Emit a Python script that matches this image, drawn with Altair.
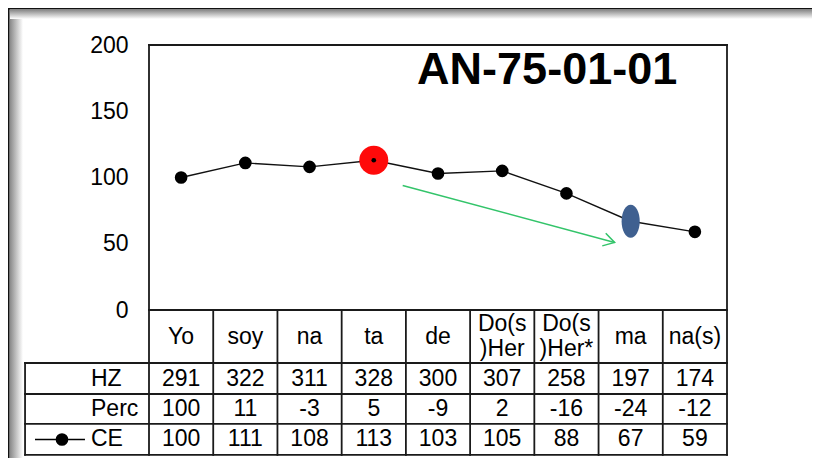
import altair as alt
import pandas as pd

# ---------------- data ----------------
categories = ["Yo", "soy", "na", "ta", "de", "Do(s\n)Her", "Do(s\n)Her*", "ma", "na(s)"]
hz_values = [291, 322, 311, 328, 300, 307, 258, 197, 174]
perc_values = [100, 11, -3, 5, -9, 2, -16, -24, -12]
ce_values = [100, 111, 108, 113, 103, 105, 88, 67, 59]
row_labels = ["HZ", "Perc", "CE"]
y_tick_values = [0, 50, 100, 150, 200]
title_text = "AN-75-01-01"
red_index = 3      # "ta"
blue_index = 7     # "ma"
arrow_from = [3.95, 94]
arrow_to = [7.25, 51]

# ---------------- layout / style ----------------
FONT = "Liberation Sans"
W, H = 804, 450
LEFT = -1.93                                   # left edge of the row-label column (x units)
ROW_EDGES = [0, -40, -63.4, -86, -109.4]       # table row boundaries (y units)
HEADER_MID = -20
LINE_STEP = 18.5                               # header line spacing (y units)
ROW_MIDS = [(ROW_EDGES[i + 1] + ROW_EDGES[i + 2]) / 2 for i in range(3)]
TXT = 23

x_scale = alt.Scale(domain=[0, 9], range=[141, 719], nice=False, zero=False)
y_scale = alt.Scale(domain=[0, 200], range=[302, 37], nice=False, zero=False)
y_axis = alt.Axis(values=y_tick_values, offset=-141, domain=False, ticks=False, grid=False,
                  labelPadding=21, labelFont=FONT, labelFontSize=TXT, labelColor="black",
                  title=None)


def X(f):
    return alt.X(f, type="quantitative", scale=x_scale, axis=None)


def Y(f):
    return alt.Y(f, type="quantitative", scale=y_scale, axis=y_axis)


# ---------------- tables ----------------
pts = pd.DataFrame({"pos": [i + 0.5 for i in range(len(categories))],
                    "ce": ce_values, "cat": categories})

cells = []
for r, vals in enumerate([hz_values, perc_values, ce_values]):
    for i, v in enumerate(vals):
        cells.append({"pos": i + 0.5, "y": ROW_MIDS[r], "txt": str(v)})
cells = pd.DataFrame(cells)

header = []
for i, cat in enumerate(categories):
    lines = cat.split("\n")
    n = len(lines)
    for j, ln in enumerate(lines):
        header.append({"pos": i + 0.5, "y": HEADER_MID + ((n - 1) / 2 - j) * LINE_STEP, "txt": ln})
header = pd.DataFrame(header)

rows = pd.DataFrame({"x": [-0.903] * 3, "y": ROW_MIDS, "txt": row_labels})

rules = []
for b in range(10):
    top = 200 if b in (0, 9) else 0
    rules.append({"x": b, "x2": b, "y": top, "y2": ROW_EDGES[-1]})
rules.append({"x": LEFT, "x2": LEFT, "y": ROW_EDGES[1], "y2": ROW_EDGES[-1]})
rules.append({"x": 0, "x2": 9, "y": 200, "y2": 200})
rules.append({"x": 0, "x2": 9, "y": 0, "y2": 0})
for e in ROW_EDGES[1:]:
    rules.append({"x": LEFT, "x2": 9, "y": e, "y2": e})
rules = pd.DataFrame(rules)

one = pd.DataFrame({"a": [0]})

# ---------------- decoration (window frame) ----------------
grad_h = alt.Gradient(gradient="linear",
                      stops=[alt.GradientStop(color="#8a8a8a", offset=0),
                             alt.GradientStop(color="#ffffff", offset=1)],
                      x1=0, x2=1, y1=0, y2=0)
grad_v = alt.Gradient(gradient="linear",
                      stops=[alt.GradientStop(color="#8a8a8a", offset=0),
                             alt.GradientStop(color="#ffffff", offset=1)],
                      x1=0, x2=0, y1=0, y2=1)
shadow_left = alt.Chart(one).mark_rect(color=grad_h).encode(
    x=alt.value(2), x2=alt.value(15), y=alt.value(2), y2=alt.value(H))
shadow_top = alt.Chart(one).mark_rect(color=grad_v).encode(
    x=alt.value(2), x2=alt.value(W), y=alt.value(2), y2=alt.value(11))
frame_left = alt.Chart(one).mark_rule(color="#111", strokeWidth=1.6).encode(
    x=alt.value(0.8), y=alt.value(0), y2=alt.value(H))
frame_top = alt.Chart(one).mark_rule(color="#111", strokeWidth=1.6).encode(
    x=alt.value(0), x2=alt.value(W), y=alt.value(0.8))

# ---------------- chart layers ----------------
grid = alt.Chart(rules).mark_rule(color="#1a1a1a", strokeWidth=1.8, strokeCap="square").encode(
    x=X("x"), x2="x2", y=Y("y"), y2="y2")

line = alt.Chart(pts).mark_line(color="#111", strokeWidth=1.4).encode(x=X("pos"), y=Y("ce"))
dots = alt.Chart(pts).mark_point(filled=True, shape="circle", size=160, color="black",
                                 opacity=1).encode(x=X("pos"), y=Y("ce"))

red = alt.Chart(pts.iloc[[red_index]]).mark_point(filled=True, shape="circle", size=840,
                                                   color="#ff0a0a", opacity=1).encode(x=X("pos"), y=Y("ce"))
red_dot = alt.Chart(pts.iloc[[red_index]]).mark_point(filled=True, shape="circle", size=22,
                                                       color="black", opacity=1).encode(x=X("pos"), y=Y("ce"))
ellipse = "M0,-1A0.55,1 0 1,1 0,1A0.55,1 0 1,1 0,-1Z"
blue = alt.Chart(pts.iloc[[blue_index]]).mark_point(filled=True, shape=ellipse, size=1089,
                                                     color="#3f6090", opacity=1).encode(x=X("pos"), y=Y("ce"))

arrow_df = pd.DataFrame({"x": [arrow_from[0]], "y": [arrow_from[1]],
                         "x2": [arrow_to[0]], "y2": [arrow_to[1]]})
arrow_line = alt.Chart(arrow_df).mark_rule(color="#33c46a", strokeWidth=1.5).encode(
    x=X("x"), y=Y("y"), x2="x2", y2="y2")
arrow_head = alt.Chart(arrow_df).mark_point(shape="M-1,-0.6L0,0L-1,0.6", filled=False, size=484,
                                            color="#33c46a", strokeWidth=1.5, angle=15.3,
                                            opacity=1).encode(x=X("x2"), y=Y("y2"))

title_df = pd.DataFrame({"x": [6.2], "y": [181], "txt": [title_text]})
title = alt.Chart(title_df).mark_text(font=FONT, fontSize=45, fontWeight="bold", color="black",
                                      align="center", baseline="middle").encode(
    x=X("x"), y=Y("y"), text="txt:N")

header_txt = alt.Chart(header).mark_text(font=FONT, fontSize=TXT, color="black", align="center",
                                         baseline="middle").encode(
    x=X("pos"), y=Y("y"), text="txt:N")
cell_txt = alt.Chart(cells).mark_text(font=FONT, fontSize=TXT, color="black", align="center",
                                      baseline="middle").encode(x=X("pos"), y=Y("y"), text="txt:N")
row_txt = alt.Chart(rows).mark_text(font=FONT, fontSize=TXT, color="black", align="left",
                                    baseline="middle").encode(x=X("x"), y=Y("y"), text="txt:N")

legend_df = pd.DataFrame({"x": [-1.775], "x2": [-0.997], "xd": [-1.355], "y": [ROW_MIDS[2]]})
legend_line = alt.Chart(legend_df).mark_rule(color="black", strokeWidth=1.5).encode(
    x=X("x"), x2="x2", y=Y("y"))
legend_dot = alt.Chart(legend_df).mark_point(filled=True, shape="circle", size=160, color="black",
                                             opacity=1).encode(x=X("xd"), y=Y("y"))

chart = alt.layer(
    shadow_left, shadow_top, frame_left, frame_top,
    grid, arrow_line, arrow_head, line, dots, red, red_dot, blue,
    title, header_txt, cell_txt, row_txt, legend_line, legend_dot,
).properties(
    width=W, height=H, padding=0, autosize=alt.AutoSizeParams(type="none"), background="white"
).configure_view(stroke=None)

chart.save("out.html", embed_options={"renderer": "svg", "actions": False})
